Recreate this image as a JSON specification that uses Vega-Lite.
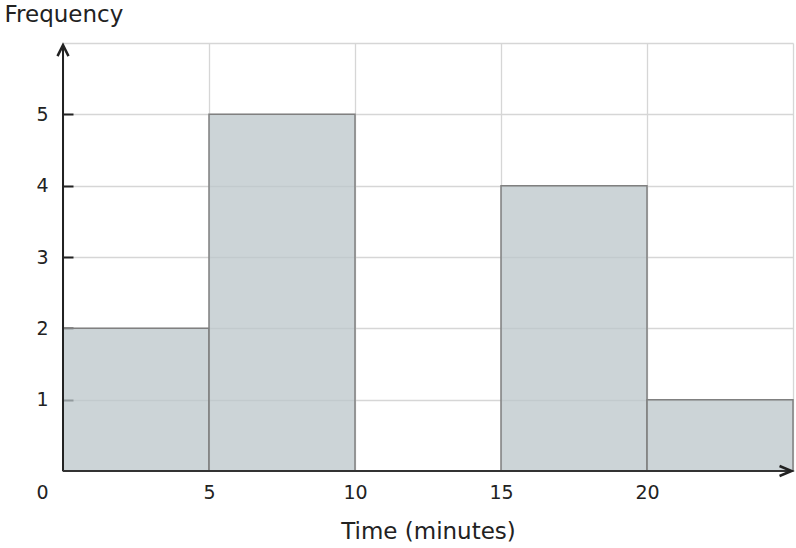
{
  "$schema": "https://vega.github.io/schema/vega-lite/v6.json",
  "width": 730,
  "height": 428,
  "autosize": {"type": "none"},
  "padding": {"left": 63, "top": 43, "right": 3, "bottom": 77},
  "data": {
    "values": [
      {"start": 0, "end": 5, "count": 2},
      {"start": 5, "end": 10, "count": 5},
      {"start": 10, "end": 15, "count": 0},
      {"start": 15, "end": 20, "count": 4},
      {"start": 20, "end": 25, "count": 1}
    ]
  },
  "layer": [
    {
      "mark": {"type": "rect", "fill": "#bac5c9", "fillOpacity": 0.74, "stroke": "#808080", "strokeWidth": 1.5},
      "encoding": {
        "x": {
          "field": "start",
          "type": "quantitative",
          "scale": {"domain": [0, 25], "nice": false, "zero": false},
          "axis": {
            "values": [0, 5, 10, 15, 20, 25],
            "title": "Time (minutes)",
            "domain": false,
            "ticks": false,
            "grid": true,
            "gridColor": "#d6d6d6",
            "gridWidth": 1.3,
            "labelFontSize": 19,
            "labelColor": "#222222",
            "labelPadding": 12,
            "labelFlush": false,
            "labelExpr": "datum.value == 25 ? '' : datum.label",
            "labelOffset": {"condition": {"test": "datum.value == 0", "value": -21}, "value": 0},
            "titleFontSize": 23,
            "titleFontWeight": "normal",
            "titleColor": "#222222",
            "titlePadding": 18
          }
        },
        "x2": {"field": "end"},
        "y": {
          "field": "count",
          "type": "quantitative",
          "scale": {"domain": [0, 6], "nice": false},
          "axis": {
            "values": [1, 2, 3, 4, 5, 6],
            "format": "d",
            "title": "Frequency",
            "titleAngle": 0,
            "titleAlign": "left",
            "titleBaseline": "alphabetic",
            "titleX": -59,
            "titleY": -22,
            "titleFontSize": 23,
            "titleFontWeight": "normal",
            "titleColor": "#222222",
            "domain": false,
            "grid": true,
            "gridColor": "#d6d6d6",
            "gridWidth": 1.3,
            "ticks": true,
            "tickSize": -10,
            "tickWidth": 2,
            "tickColor": "#222222",
            "tickOpacity": {"condition": {"test": "datum.value == 6", "value": 0}, "value": 1},
            "labelExpr": "datum.value == 6 ? '' : datum.label",
            "labelFontSize": 19,
            "labelColor": "#222222",
            "labelPadding": 25
          }
        },
        "y2": {"datum": 0}
      }
    },
    {
      "data": {"values": [{}]},
      "mark": {"type": "rule", "stroke": "#222222", "strokeWidth": 2},
      "encoding": {"x": {"datum": 0}, "y": {"datum": 0}, "y2": {"datum": 5.97}}
    },
    {
      "data": {"values": [{}]},
      "mark": {"type": "rule", "stroke": "#333333", "strokeWidth": 2},
      "encoding": {"x": {"datum": 0}, "x2": {"datum": 24.95}, "y": {"datum": 0}}
    },
    {
      "data": {"values": [{}]},
      "mark": {"type": "point", "shape": "M-1,2L0,0L1,2", "size": 121, "filled": false, "stroke": "#222222", "strokeWidth": 2.5, "opacity": 1},
      "encoding": {"x": {"datum": 0}, "y": {"datum": 5.97}}
    },
    {
      "data": {"values": [{}]},
      "mark": {"type": "point", "shape": "M-2.4,-1L0,0L-2.4,1", "size": 100, "filled": false, "stroke": "#222222", "strokeWidth": 2.5, "opacity": 1},
      "encoding": {"x": {"datum": 24.95}, "y": {"datum": 0}}
    }
  ],
  "config": {
    "font": "DejaVu Sans",
    "view": {"stroke": null}
  }
}
